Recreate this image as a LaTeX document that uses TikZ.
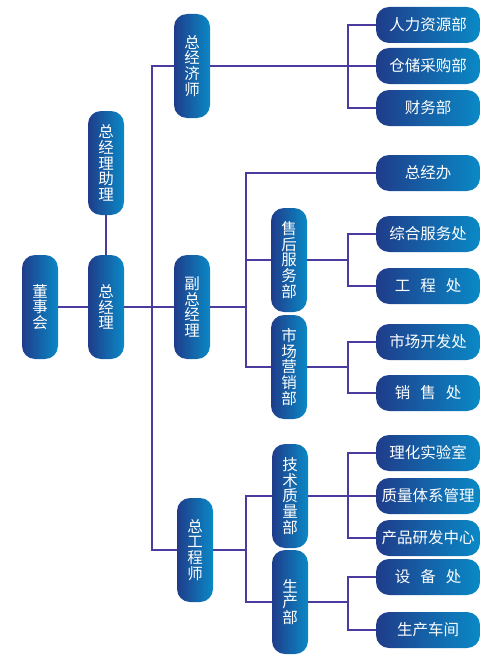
\documentclass[tikz,border=0pt]{standalone}
\usepackage{fontspec}
\newfontfamily\cjk{Noto Sans CJK SC}
\definecolor{bdark}{HTML}{1F3C8A}
\definecolor{blight}{HTML}{0A89C6}
\definecolor{lncol}{HTML}{4A3C9E}
\tikzset{
  boxbase/.style={rounded corners=13pt, left color=bdark, right color=blight, text=white, inner sep=0pt, align=center, font=\cjk\fontsize{15.5}{15.8}\selectfont},
  vbox/.style={boxbase, minimum width=36pt, minimum height=104pt},
  hbox/.style={boxbase, minimum width=104pt, minimum height=36pt},
  ln/.style={draw=lncol, line width=1.7pt}
}
\begin{document}
\begin{tikzpicture}[x=1pt,y=-1pt]
\useasboundingbox (0,0) rectangle (500,661);
% vertical boxes
\node[vbox] (dsh) at (40,307) {董\\事\\会};
\node[vbox] (zjl) at (106,307) {总\\经\\理};
\node[vbox] (zl) at (106,163) {总\\经\\理\\助\\理};
\node[vbox] (jjs) at (192,66) {总\\经\\济\\师};
\node[vbox] (fzjl) at (192,307) {副\\总\\经\\理};
\node[vbox] (gcs) at (195,550) {总\\工\\程\\师};
\node[vbox] (shfw) at (289,260) {售\\后\\服\\务\\部};
\node[vbox] (scyx) at (289,367) {市\\场\\营\\销\\部};
\node[vbox] (jszl) at (290,496) {技\\术\\质\\量\\部};
\node[vbox] (scb) at (290,602) {生\\产\\部};
% horizontal boxes
\node[hbox] (rl) at (428,25) {人力资源部};
\node[hbox] (cc) at (428,66) {仓储采购部};
\node[hbox] (cw) at (428,108) {财务部};
\node[hbox] (zjb) at (428,173) {总经办};
\node[hbox] (zhfw) at (428,234) {综合服务处};
\node[hbox] (gcc) at (428,286) {工\hspace{10pt}程\hspace{10pt}处};
\node[hbox] (sckf) at (428,342) {市场开发处};
\node[hbox] (xsc) at (428,393) {销\hspace{10pt}售\hspace{10pt}处};
\node[hbox] (lhs) at (428,453) {理化实验室};
\node[hbox] (zltx) at (428,496) {质量体系管理};
\node[hbox] (cpyf) at (428,538) {产品研发中心};
\node[hbox] (sbc) at (428,577) {设\hspace{10pt}备\hspace{10pt}处};
\node[hbox] (sccj) at (428,630) {生产车间};
% junction coordinates
\coordinate (t0) at (152,307);
\coordinate (b1) at (348,66);
\coordinate (t2) at (246,307);
\coordinate (b3) at (348,260);
\coordinate (b4) at (348,367);
\coordinate (t5) at (246,550);
\coordinate (b6) at (348,496);
\coordinate (b7) at (348,602);
% connectors
\draw[ln] (dsh.east) -- (zjl.west);
\draw[ln] (zjl.north) -- (zl.south);
\draw[ln] (zjl.east) -- (fzjl.west);
\draw[ln] (jjs.west) -| (t0) |- (gcs.west);
% 总经济师
\draw[ln] (jjs.east) -- (cc.west);
\draw[ln] (rl.west) -| (b1) |- (cw.west);
% 副总经理
\draw[ln] (fzjl.east) -- (t2);
\draw[ln] (zjb.west) -| (t2) |- (scyx.west);
\draw[ln] (shfw.west) -- (shfw.west -| t2);
% 售后服务部
\draw[ln] (shfw.east) -- (b3);
\draw[ln] (zhfw.west) -| (b3) |- (gcc.west);
% 市场营销部
\draw[ln] (scyx.east) -- (b4);
\draw[ln] (sckf.west) -| (b4) |- (xsc.west);
% 总工程师
\draw[ln] (gcs.east) -- (t5);
\draw[ln] (jszl.west) -| (t5) |- (scb.west);
% 技术质量部
\draw[ln] (jszl.east) -- (zltx.west);
\draw[ln] (lhs.west) -| (b6) |- (cpyf.west);
% 生产部
\draw[ln] (scb.east) -- (b7);
\draw[ln] (sbc.west) -| (b7) |- (sccj.west);
\end{tikzpicture}
\end{document}
